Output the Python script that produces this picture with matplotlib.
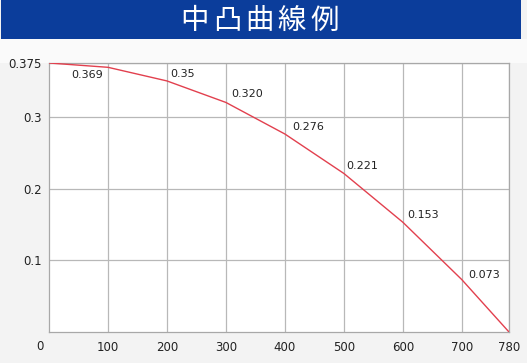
import numpy as np
import matplotlib.pyplot as plt
from matplotlib.patches import Rectangle

#--- DATA ---#
title_chars = ["中", "凸", "曲", "線", "例"]
x_vals = [0, 100, 200, 300, 400, 500, 600, 700, 780]
y_vals = [0.375, 0.369, 0.35, 0.320, 0.276, 0.221, 0.153, 0.073, 0.0]
point_labels = ["", "0.369", "0.35", "0.320", "0.276", "0.221", "0.153", "0.073", ""]
x_ticks = [100, 200, 300, 400, 500, 600, 700, 780]
y_ticks = [0.1, 0.2, 0.3, 0.375]
y_ticklabels = ["0.1", "0.2", "0.3", "0.375"]

# label offsets in pixels (dx, dy) from the point
label_offsets = [(0, 0), (-21, -8), (16, 7), (21, 8), (23, 7), (18, 7), (20, 7), (22, 5), (0, 0)]

W, H = 527, 363
fig = plt.figure(figsize=(W / 100, H / 100), dpi=100)
fig.patch.set_facecolor("#f3f3f3")

# title bar
fig.patches.append(Rectangle((1 / W, 1 - 39 / H), 520 / W, 39 / H, transform=fig.transFigure,
                             facecolor="#0b3d9b", edgecolor="none", zorder=-2))
fig.patches.append(Rectangle((0, 1 - 63 / H), 1, 24 / H, transform=fig.transFigure,
                             facecolor="#fafafa", edgecolor="none", zorder=-2))
for i, ch in enumerate(title_chars):
    fig.text((194.5 + i * 32.5) / W, 1 - 21 / H, ch, color="white", fontsize=20.5,
             family=["Noto Sans CJK JP", "DejaVu Sans"], ha="center", va="center")

ax = fig.add_axes([49 / W, 1 - 332 / H, 460 / W, 269 / H])
ax.set_facecolor("white")
ax.plot(x_vals, y_vals, color="#e2404e", lw=1.0, zorder=3)

for x, y, lab, (dx, dy) in zip(x_vals, y_vals, point_labels, label_offsets):
    if lab:
        ax.annotate(lab, (x, y), xytext=(dx, dy), textcoords="offset pixels",
                    ha="center", va="center", fontsize=8, color="#222222", zorder=4)

ax.set_xlim(0, 780)
ax.set_ylim(0, 0.375)
ax.set_xticks(x_ticks)
ax.set_xticklabels([str(t) for t in x_ticks])
ax.set_yticks(y_ticks)
ax.set_yticklabels(y_ticklabels)
ax.tick_params(length=0, labelsize=8.5, colors="#222222")
ax.tick_params(axis="x", pad=6.5)
ax.tick_params(axis="y", pad=5)
ax.annotate("0", (0, 0), xytext=(-9, -14), textcoords="offset pixels",
            ha="center", va="center", fontsize=8.5, color="#222222", annotation_clip=False)

ax.grid(True, color="#b8b8b8", lw=0.9)
for s in ax.spines.values():
    s.set_color("#a8a8a8")
    s.set_linewidth(0.9)

fig.savefig("out.png", dpi=100, facecolor=fig.get_facecolor())
